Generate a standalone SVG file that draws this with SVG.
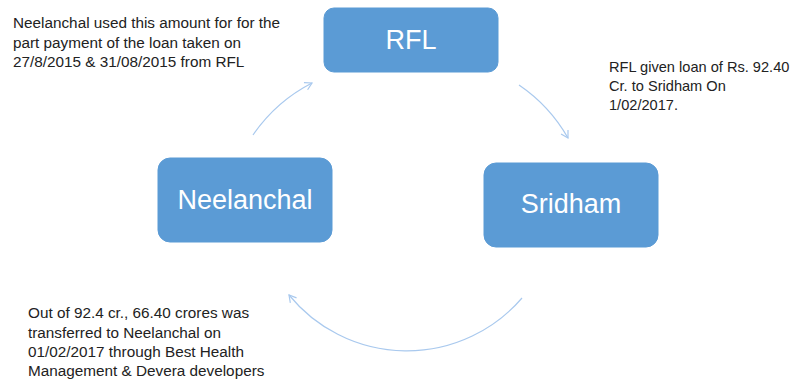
<svg xmlns="http://www.w3.org/2000/svg" width="791" height="379" viewBox="0 0 791 379">
  <style>
    .node rect { fill: #5B9BD5; stroke: #5B9BD5; stroke-width: 1; }
    .node text { fill: #FFFFFF; font-family: "Liberation Sans", Arial, sans-serif; font-size: 27px; text-anchor: middle; }
    .note { fill: #222222; font-family: "Liberation Sans", Arial, sans-serif; font-size: 15.3px; }
    #note-right .note { font-size: 14.6px; }
    .arc { fill: none; stroke: #A9C9EE; stroke-width: 1.2; }
  </style>
  <defs>
    <marker id="chev" markerUnits="userSpaceOnUse" markerWidth="12" markerHeight="12" refX="8" refY="5" orient="auto">
      <path d="M1,1 L8,5 L1,9" fill="none" stroke="#A9C9EE" stroke-width="1.2"/>
    </marker>
  </defs>

  <!-- cycle connectors -->
  <g id="connectors">
    <path class="arc" d="M253 135 A160 160 0 0 1 312 83" marker-end="url(#chev)"/>
    <path class="arc" d="M519 85 A160 160 0 0 1 568 138" marker-end="url(#chev)"/>
    <path class="arc" d="M522 298 A152 152 0 0 1 289 295" marker-end="url(#chev)"/>
  </g>

  <g id="node-rfl" class="node">
    <rect x="324" y="8" width="174" height="64" rx="10"/>
    <text x="411" y="49">RFL</text>
  </g>

  <g id="node-neelanchal" class="node">
    <rect x="158" y="158" width="174" height="84" rx="12"/>
    <text x="245" y="209">Neelanchal</text>
  </g>

  <g id="node-sridham" class="node">
    <rect x="484" y="163" width="174" height="84" rx="12"/>
    <text x="571" y="213">Sridham</text>
  </g>

  <!-- annotations -->
  <g id="note-top-left">
    <text class="note" x="13" y="28">Neelanchal used this amount for for the</text>
    <text class="note" x="13" y="48">part payment of the loan taken on</text>
    <text class="note" x="13" y="67">27/8/2015 &amp; 31/08/2015 from RFL</text>
  </g>
  <g id="note-right">
    <text class="note" x="609" y="72">RFL given loan of Rs. 92.40</text>
    <text class="note" x="609" y="91">Cr. to Sridham On</text>
    <text class="note" x="609" y="110">1/02/2017.</text>
  </g>
  <g id="note-bottom">
    <text class="note" x="28" y="318">Out of 92.4 cr., 66.40 crores was</text>
    <text class="note" x="28" y="338">transferred to Neelanchal on</text>
    <text class="note" x="28" y="357">01/02/2017 through Best Health</text>
    <text class="note" x="28" y="376">Management &amp; Devera developers</text>
  </g>
</svg>
